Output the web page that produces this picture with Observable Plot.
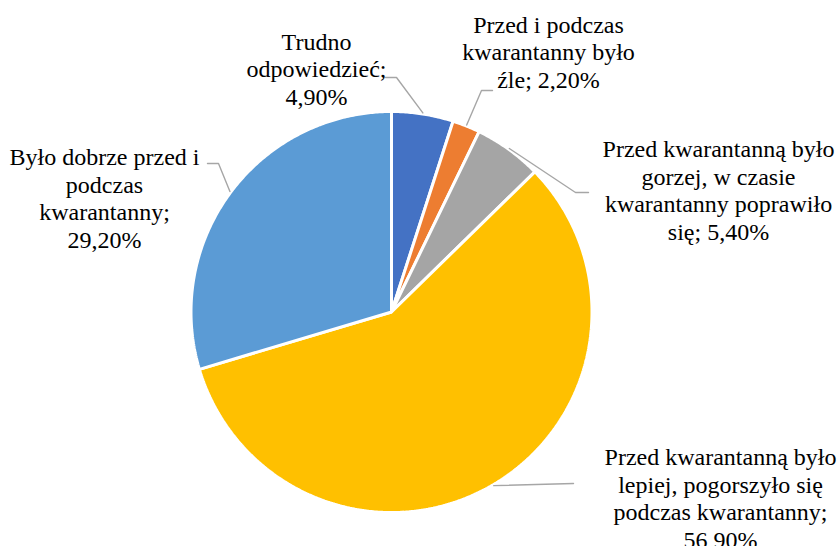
<!DOCTYPE html>
<html>
<head>
<meta charset="utf-8">
<script src="https://cdn.jsdelivr.net/npm/d3@7"></script>
<script src="https://cdn.jsdelivr.net/npm/@observablehq/plot@0.6"></script>
<style>
  html, body { margin: 0; padding: 0; background: #fff; }
  #chart svg { display: block; }
  #chart svg text { font-family: "Liberation Serif", "Times New Roman", Times, serif; }
</style>
</head>
<body>
<div id="chart"></div>
<script>
// ---- data ----
const categories = [
  "Trudno odpowiedzieć",
  "Przed i podczas kwarantanny było źle",
  "Przed kwarantanną było gorzej, w czasie kwarantanny poprawiło się",
  "Przed kwarantanną było lepiej, pogorszyło się podczas kwarantanny",
  "Było dobrze przed i podczas kwarantanny"
];
const shares = [4.9, 2.2, 5.4, 56.9, 29.2];
const labelTexts = [
  "Trudno\nodpowiedzieć;\n4,90%",
  "Przed i podczas\nkwarantanny było\nźle; 2,20%",
  "Przed kwarantanną było\ngorzej, w czasie\nkwarantanny poprawiło\nsię; 5,40%",
  "Przed kwarantanną było\nlepiej, pogorszyło się\npodczas kwarantanny;\n56,90%",
  "Było dobrze przed i\npodczas\nkwarantanny;\n29,20%"
];

// ---- styles & layout (pixel space of the plot) ----
const sliceColors = ["#4472C4", "#ED7D31", "#A5A5A5", "#FFC000", "#5B9BD5"];
const W = 839, H = 546;
const CX = 391, CY = 311.5, R = 200.5;
// label block centres
const labelPos = [[316, 68], [548, 51], [718, 189], [720, 497], [104, 197]];
// leader lines: elbow and end point near the label
const leaderElbow = [[396, 77], [481, 90], [575, 192], [573, 483], [218, 163]];
const leaderEnd = [[385, 77], [492, 90], [588, 192], [573, 483], [207, 163]];

// ---- geometry from data ----
const arcs = d3.pie().sort(null).value(d => d)(shares);
const pt = (a, r) => [CX + r * Math.sin(a), CY - r * Math.cos(a)];

const slicePts = [];
arcs.forEach((a, i) => {
  slicePts.push({i, x: CX, y: CY});
  const n = Math.max(2, Math.ceil((a.endAngle - a.startAngle) / (Math.PI / 360)));
  for (let k = 0; k <= n; k++) {
    const ang = a.startAngle + (a.endAngle - a.startAngle) * k / n;
    const [x, y] = pt(ang, R);
    slicePts.push({i, x, y});
  }
});

const leaderPts = [];
arcs.forEach((a, i) => {
  const mid = (a.startAngle + a.endAngle) / 2;
  const [sx, sy] = pt(mid, R * 1.005);
  leaderPts.push({i, x: sx, y: sy});
  leaderPts.push({i, x: leaderElbow[i][0], y: leaderElbow[i][1]});
  leaderPts.push({i, x: leaderEnd[i][0], y: leaderEnd[i][1]});
});

const labels = labelTexts.map((t, i) => ({t, x: labelPos[i][0], y: labelPos[i][1]}));

const chart = Plot.plot({
  width: W,
  height: H,
  margin: 0,
  style: {background: "#fff", overflow: "visible", fontFamily: "Liberation Serif"},
  x: {domain: [0, W], range: [0, W], axis: null},
  y: {domain: [0, H], range: [0, H], axis: null},
  color: {type: "identity"},
  marks: [
    Plot.line(slicePts, {
      x: "x", y: "y", z: "i",
      fill: d => sliceColors[d.i],
      stroke: "#ffffff",
      strokeWidth: 3,
      strokeLinejoin: "miter",
      curve: "linear-closed"
    }),
    Plot.line(leaderPts, {
      x: "x", y: "y", z: "i",
      stroke: "#A6A6A6",
      strokeWidth: 1.4
    }),
    Plot.text(labels, {
      x: "x", y: "y", text: "t",
      textAnchor: "middle",
      lineAnchor: "middle",
      lineHeight: 1.15,
      fontFamily: "Liberation Serif",
      fontSize: 24,
      fill: "#000"
    })
  ]
});
document.getElementById("chart").appendChild(chart);
</script>
</body>
</html>
